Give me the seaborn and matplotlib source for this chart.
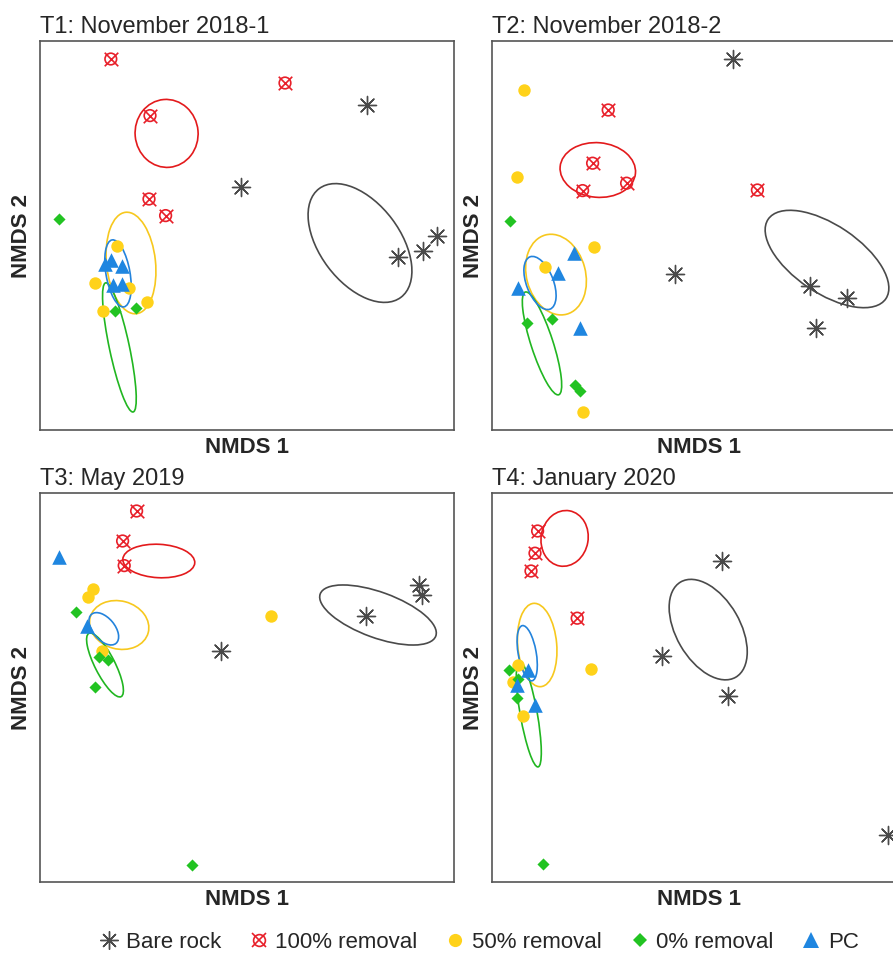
import numpy as np
import pandas as pd
import matplotlib
matplotlib.use("Agg")
import matplotlib.pyplot as plt
from matplotlib.patches import Ellipse
from matplotlib.lines import Line2D
import seaborn as sns

sns.set_style("white")
plt.rcParams['font.family'] = ['Liberation Sans', 'DejaVu Sans']

# ----------------------------
# Data (NMDS scores)
# ----------------------------
panel_titles = ["T1: November 2018-1", "T2: November 2018-2", "T3: May 2019", "T4: January 2020"]
groups = ["Bare rock", "100% removal", "50% removal", "0% removal", "PC"]

bare_x = [[0.634, 0.004, 0.792, 0.914, 0.984],
          [0.207, -0.085, 0.590, 0.774, 0.619],
          [0.897, 0.909, 0.630, -0.097],
          [0.149, -0.149, 0.182, 0.979]]
bare_y = [[0.624, 0.217, -0.137, -0.105, -0.030],
          [0.855, -0.222, -0.280, -0.342, -0.489],
          [0.485, 0.435, 0.330, 0.155],
          [0.605, 0.130, -0.069, -0.765]]

r100_x = [[-0.646, 0.225, -0.450, -0.455, -0.372],
          [-0.419, -0.497, -0.547, -0.327, 0.327],
          [-0.517, -0.587, -0.579],
          [-0.772, -0.785, -0.805, -0.574]]
r100_y = [[0.855, 0.735, 0.572, 0.155, 0.072],
          [0.600, 0.334, 0.197, 0.234, 0.200],
          [0.855, 0.705, 0.582],
          [0.755, 0.644, 0.555, 0.319]]

r50_x = [[-0.617, -0.725, -0.554, -0.467, -0.684],
         [-0.839, -0.877, -0.489, -0.735, -0.547],
         [-0.734, -0.759, 0.154, -0.689],
         [-0.505, -0.869, -0.894, -0.844]]
r50_y = [[-0.079, -0.267, -0.289, -0.362, -0.405],
         [0.700, 0.264, -0.087, -0.187, -0.912],
         [0.464, 0.425, 0.330, 0.155],
         [0.064, 0.085, 0.002, -0.170]]

r0_x = [[-0.905, -0.625, -0.520],
        [-0.910, -0.827, -0.699, -0.585, -0.560],
        [-0.820, -0.704, -0.659, -0.725, -0.239],
        [-0.915, -0.869, -0.877, -0.745]]
r0_y = [[0.055, -0.405, -0.390],
        [0.045, -0.467, -0.447, -0.775, -0.805],
        [0.349, 0.124, 0.110, -0.024, -0.915],
        [0.060, 0.014, -0.082, -0.910]]

pc_x = [[-0.675, -0.645, -0.590, -0.635, -0.590],
        [-0.590, -0.669, -0.869, -0.560],
        [-0.905, -0.764],
        [-0.819, -0.877, -0.785]]
pc_y = [[-0.170, -0.150, -0.180, -0.275, -0.270],
        [-0.117, -0.217, -0.292, -0.492],
        [0.627, 0.280],
        [0.060, -0.015, -0.115]]

# group ellipses: (centre x, centre y, width, height, angle)
ell_bare = [(0.600, -0.065, 0.68, 0.40, -53), (0.675, -0.145, 0.71, 0.34, -34),
            (0.690, 0.335, 0.615, 0.228, -20), (0.081, 0.262, 0.55, 0.32, -60)]
ell_r100 = [(-0.367, 0.483, 0.34, 0.315, 95), (-0.471, 0.300, 0.378, 0.273, -5),
            (-0.406, 0.605, 0.36, 0.167, -3), (-0.637, 0.718, 0.28, 0.235, 80)]
ell_r50 = [(-0.545, -0.165, 0.51, 0.245, -84), (-0.680, -0.223, 0.41, 0.295, -75),
           (-0.604, 0.285, 0.30, 0.24, -15), (-0.774, 0.185, 0.418, 0.195, -85)]
ell_r0 = [(-0.603, -0.587, 0.66, 0.10, -78), (-0.750, -0.567, 0.54, 0.11, -72),
          (-0.675, 0.085, 0.355, 0.10, -63), (-0.816, -0.161, 0.535, 0.085, -80)]
ell_pc = [(-0.610, -0.217, 0.34, 0.12, -80), (-0.760, -0.265, 0.28, 0.135, -69),
          (-0.681, 0.266, 0.19, 0.11, -50), (-0.824, 0.144, 0.28, 0.09, -80)]

colors = {"Bare rock": "#4a4a4a", "100% removal": "#e8202a", "50% removal": "#ffd21a",
          "0% removal": "#22c322", "PC": "#1f86e0"}
ell_colors = {"Bare rock": "#4a4a4a", "100% removal": "#e31a1c", "50% removal": "#f7c81e",
              "0% removal": "#21b621", "PC": "#2383dc"}

# long table of all points
rows = []
for i, t in enumerate(panel_titles):
    for g, xs, ys in zip(groups, [bare_x, r100_x, r50_x, r0_x, pc_x],
                         [bare_y, r100_y, r50_y, r0_y, pc_y]):
        for x, y in zip(xs[i], ys[i]):
            rows.append({"panel": t, "group": g, "NMDS1": x, "NMDS2": y})
df = pd.DataFrame(rows)
ells = dict(zip(groups, [ell_bare, ell_r100, ell_r50, ell_r0, ell_pc]))

# ----------------------------
# Figure
# ----------------------------
W, H = 893, 956
fig = plt.figure(figsize=(W / 100, H / 100), dpi=100)
# panel boxes in pixels: left, top
boxes = [(40, 41), (492, 41), (40, 493), (492, 493)]
aw, ah = 414, 389

for i, t in enumerate(panel_titles):
    l, top = boxes[i]
    ax = fig.add_axes([l / W, 1 - (top + ah) / H, aw / W, ah / H])
    d = df[df["panel"] == t]

    # ellipses
    for g in groups:
        cx, cy, w, h, a = ells[g][i]
        ax.add_patch(Ellipse((cx, cy), w, h, angle=a, fill=False,
                             edgecolor=ell_colors[g], lw=1.2, zorder=2))

    dg = d[d["group"] == "Bare rock"]
    sns.scatterplot(data=dg, x="NMDS1", y="NMDS2", ax=ax, marker=(8, 2, 0),
                    color=colors["Bare rock"], s=170, linewidth=1.0, zorder=3)
    dg = d[d["group"] == "100% removal"]
    ax.scatter(dg["NMDS1"], dg["NMDS2"], marker="o", s=70, facecolors="none",
               edgecolors=colors["100% removal"], linewidths=1.2, zorder=3)
    ax.scatter(dg["NMDS1"], dg["NMDS2"], marker="x", s=95,
               color=colors["100% removal"], linewidths=1.2, zorder=3)
    dg = d[d["group"] == "50% removal"]
    sns.scatterplot(data=dg, x="NMDS1", y="NMDS2", ax=ax, marker="o",
                    color=colors["50% removal"], s=80, linewidth=0, zorder=3)
    dg = d[d["group"] == "0% removal"]
    sns.scatterplot(data=dg, x="NMDS1", y="NMDS2", ax=ax, marker="D",
                    color=colors["0% removal"], s=38, linewidth=0, zorder=3)
    dg = d[d["group"] == "PC"]
    sns.scatterplot(data=dg, x="NMDS1", y="NMDS2", ax=ax, marker="^",
                    color=colors["PC"], s=110, linewidth=0, zorder=3)

    ax.set_xlim(-1.0, 1.07)
    ax.set_ylim(-1.0, 0.945)
    ax.set_xticks([])
    ax.set_yticks([])
    for s in ax.spines.values():
        s.set_color("#555555")
        s.set_linewidth(1.2)
    ax.set_xlabel("NMDS 1", fontsize=16, fontweight="bold", labelpad=5)
    ax.set_ylabel("NMDS 2", fontsize=16, fontweight="bold", labelpad=6)
    ax.set_title(t, loc="left", fontsize=17, pad=6)

# ----------------------------
# Legend
# ----------------------------
handles = [
    Line2D([], [], ls="none", marker=(8, 2, 0), ms=13, mew=1.0, color=colors["Bare rock"]),
    (Line2D([], [], ls="none", marker="o", ms=8.5, mfc="none", mew=1.2, mec=colors["100% removal"]),
     Line2D([], [], ls="none", marker="x", ms=9.5, mew=1.2, color=colors["100% removal"])),
    Line2D([], [], ls="none", marker="o", ms=9.5, color=colors["50% removal"], mew=0),
    Line2D([], [], ls="none", marker="D", ms=7, color=colors["0% removal"], mew=0),
    Line2D([], [], ls="none", marker="^", ms=11, color=colors["PC"], mew=0),
]
fig.legend(handles, groups, loc="center", bbox_to_anchor=(479 / W, 1 - 942 / H),
           ncol=5, frameon=False, fontsize=16, handlelength=0.9, handletextpad=0.3,
           columnspacing=1.25, borderpad=0)

fig.savefig("out.png", dpi=100)
